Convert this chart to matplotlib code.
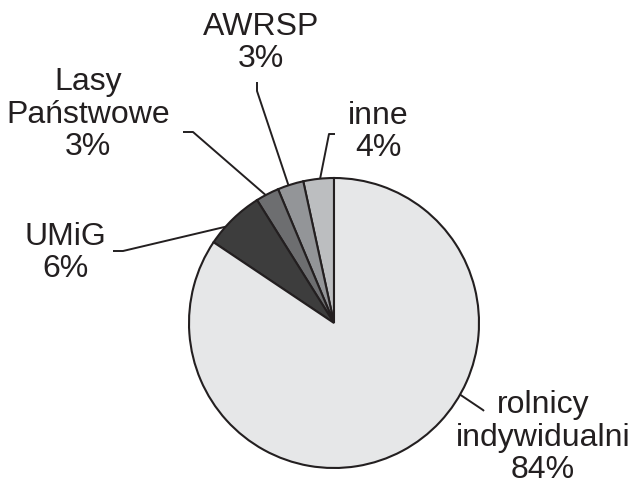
import numpy as np
import matplotlib
matplotlib.use("Agg")
import matplotlib.pyplot as plt

plt.rcParams["font.family"] = ["Liberation Sans", "DejaVu Sans"]

# Data (counter-clockwise from the top)
names = ["inne", "AWRSP", "Lasy\nPaństwowe", "UMiG", "rolnicy\nindywidualni"]
shares = [3.4, 2.9, 2.6, 6.7, 84.4]
pct_text = ["4%", "3%", "3%", "6%", "84%"]
colors = ["#bcbec0", "#939598", "#6d6e70", "#3d3d3d", "#e6e7e8"]

ink = "#231f20"

# Layout, in pixels of the 633x485 picture (label x centre, last baseline y)
W, H = 633, 485
cx, cy, R = 334, 324, 145
label_xy = [(378, 156), (261, 67), (88, 155), (65, 277), (543, 478)]
leader_start = [(335, 135), (257, 83), (183, 133), (113, 252), (484, 412)]
leader_elbow = [(329, 135), (257, 92), (193, 133), (123, 252), (483, 411)]
leader_angle = [95.5, 108.3, 118.1, 138.4, 330.4]


def to_data(p):
    return ((p[0] - cx) / R, (cy - p[1]) / R)


fig = plt.figure(figsize=(W / 100, H / 100), dpi=100)
ax = fig.add_axes([0, 0, 1, 1])

ax.pie(shares, colors=colors, startangle=90, counterclock=True,
       radius=1.0, wedgeprops=dict(edgecolor=ink, linewidth=1.5))

for name, pct, txy, s, e, ang in zip(names, pct_text, label_xy,
                                     leader_start, leader_elbow, leader_angle):
    tx, ty = to_data(txy)
    ax.text(tx, ty, f"{name}\n{pct}", ha="center", va="baseline",
            fontsize=23, color=ink, linespacing=1.1)
    edge = (np.cos(np.radians(ang)), np.sin(np.radians(ang)))
    pts = [to_data(s), to_data(e), edge]
    ax.plot([p[0] for p in pts], [p[1] for p in pts], color=ink,
            linewidth=1.4, solid_capstyle="butt")

ax.set_xlim(-cx / R, (W - cx) / R)
ax.set_ylim((cy - H) / R, cy / R)
ax.set_aspect("equal", adjustable="box")
ax.axis("off")

fig.savefig("out.png", dpi=100, facecolor="white")
